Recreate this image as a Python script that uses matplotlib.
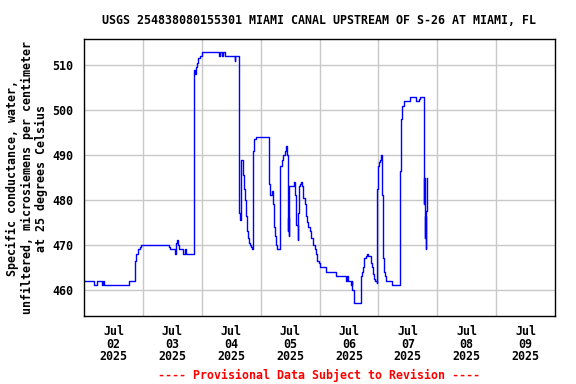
import matplotlib
matplotlib.use("Agg")
import matplotlib.pyplot as plt
import numpy as np
import datetime as dt
import matplotlib.dates as mdates

title = "USGS 254838080155301 MIAMI CANAL UPSTREAM OF S-26 AT MIAMI, FL"
ylabel = "Specific conductance, water,\nunfiltered, microsiemens per centimeter\nat 25 degrees Celsius"
footer = "---- Provisional Data Subject to Revision ----"

# hours since 2025-07-02 00:00
hours = [0.0, 4.0, 5.4, 7.3, 7.7, 8.1, 18.3, 20.6, 21.0, 21.4, 22.0, 22.7, 23.3, 34.6, 35.0,
         37.1, 37.3, 37.5, 37.8, 38.3, 38.7, 40.3, 41.1, 41.6, 44.7, 45.0, 45.3, 45.8, 46.2,
         46.6, 47.1, 48.0, 55.2, 55.6, 56.4, 56.7, 57.4, 61.4, 61.6, 63.05, 63.4, 63.9, 64.1,
         64.7, 65.2, 65.6, 66.0, 66.4, 66.8, 67.2, 67.6, 68.0, 68.3, 68.7, 69.0, 69.4, 70.0,
         75.3, 75.6, 76.0, 76.5, 76.9, 77.3, 77.8, 78.2, 78.6, 79.7, 80.1, 80.7, 81.2, 81.8,
         82.3, 82.6, 82.8, 83.0, 83.3, 83.4, 83.7, 85.6, 86.1, 86.6, 87.1, 87.3, 87.6, 88.0,
         88.4, 88.8, 89.4, 89.9, 90.4, 91.0, 91.5, 92.1, 92.6, 93.2, 94.0, 94.5, 95.0, 95.6,
         96.1, 98.8, 102.9, 106.7, 107.1, 107.8, 108.7, 109.2, 109.4, 110.0, 110.2, 113.1,
         113.5, 113.9, 114.3, 114.8, 115.3, 115.8, 116.9, 117.3, 117.7, 118.1, 118.8, 119.5,
         119.6, 120.0, 120.4, 120.8, 121.2, 121.5, 121.6, 122.0, 122.4, 122.8, 123.2, 125.7,
         129.0, 129.4, 129.8, 130.3, 133.0, 135.3, 135.5, 136.4, 136.9, 138.4, 138.7, 138.8,
         139.0, 139.2, 139.4, 139.6, 139.7]
values = [462, 461, 462, 461, 462, 461, 462, 466.5, 467.5, 468, 469, 469.5, 470, 469.5, 469,
          468, 469, 470.5, 471, 470, 469, 468, 469, 468, 498.5, 509, 508, 509.5, 510.5,
          511.5, 512, 513, 512, 513, 512, 513, 512, 511, 512, 477, 475.5, 488, 489,
          485.5, 482.5, 480, 476.5, 473, 471.5, 470.5, 470, 469.5, 469, 474, 491, 493.5, 494,
          490, 483.5, 481, 482, 479, 474, 472, 470, 469, 477.5, 487.5, 489, 490, 491,
          492, 491, 490, 473, 476, 472, 483, 484, 481, 474.5, 471, 477, 483, 483.5,
          484, 483, 480.5, 479, 476.5, 475, 474, 473, 471.5, 470, 469, 468, 466.5, 466,
          465, 464, 463, 462, 463, 462, 461, 462, 460, 458, 457, 463,
          464, 465, 467, 467.5, 468, 467.5, 466, 465, 463.5, 462.5, 462, 461.5,
          482.5, 487.5, 488.5, 489, 490, 489, 481, 467, 464, 463, 462, 461,
          486.5, 498, 501, 502, 503, 502.5, 502, 502.5, 503, 501, 479, 485,
          471.5, 476.5, 469, 477.5, 485]

day_labels = ["Jul\n02\n2025", "Jul\n03\n2025", "Jul\n04\n2025", "Jul\n05\n2025",
              "Jul\n06\n2025", "Jul\n07\n2025", "Jul\n08\n2025", "Jul\n09\n2025"]
yticks = [460, 470, 480, 490, 500, 510]

start = dt.datetime(2025, 7, 2)
times = [start + dt.timedelta(hours=h) for h in hours]

font = "DejaVu Sans Mono"
fs = 8.35

fig = plt.figure(figsize=(5.76, 3.84), dpi=100)
ax = fig.add_axes([84/576, 1-316/384, (555-84)/576, (316-39)/384])
ax.plot(times, values, color="#0000ff", lw=1.0, drawstyle="steps-post")

ax.set_xlim(start, start + dt.timedelta(days=8))
ax.set_ylim(454.2, 515.8)

major = [start + dt.timedelta(days=d) for d in range(1, 8)]
minor = [start + dt.timedelta(days=d, hours=12) for d in range(8)]
ax.set_xticks(major)
ax.set_xticklabels([""] * len(major))
ax.set_xticks(minor, minor=True)
ax.set_xticklabels(day_labels, minor=True, fontfamily=font, fontweight="bold",
                   fontsize=fs, linespacing=0.96)
ax.tick_params(axis="x", which="both", length=0, pad=6.5)
ax.set_yticks(yticks)
ax.set_yticklabels([str(v) for v in yticks], fontfamily=font, fontweight="bold", fontsize=fs)
ax.tick_params(axis="y", length=0, pad=8)

ax.grid(True, which="major", color="#c8c8c8", lw=1.0)
ax.set_axisbelow(True)
for s in ax.spines.values():
    s.set_color("black")
    s.set_linewidth(1.0)

fig.text(319.5/576, 1-20.5/384, title, ha="center", va="center",
         fontfamily=font, fontweight="bold", fontsize=fs)
fig.text(27/576, 1-178/384, ylabel, ha="center", va="center", rotation=90,
         fontfamily=font, fontweight="bold", fontsize=fs, linespacing=1.15)
fig.text(319.5/576, 1-375/384, footer, ha="center", va="center", color="red",
         fontfamily=font, fontweight="bold", fontsize=fs)

fig.savefig("out.png", dpi=100)
